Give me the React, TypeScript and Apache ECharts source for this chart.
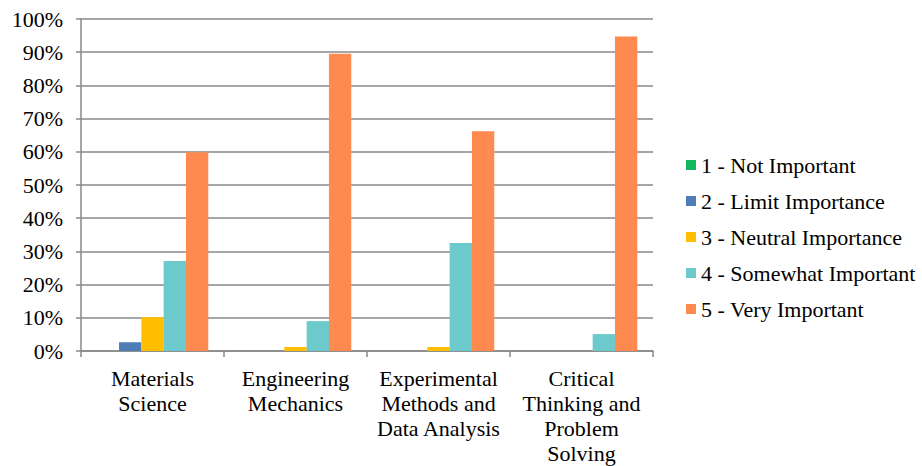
import React, { useEffect, useRef } from "react";
import * as echarts from "echarts";

const categories = [
  "Materials\nScience",
  "Engineering\nMechanics",
  "Experimental\nMethods and\nData Analysis",
  "Critical\nThinking and\nProblem\nSolving",
];
const seriesNames = [
  "1 - Not Important",
  "2 - Limit Importance",
  "3 - Neutral Importance",
  "4 - Somewhat Important",
  "5 - Very Important",
];
const notImportant = [0, 0, 0, 0];
const limitImportance = [2.6, 0, 0, 0];
const neutralImportance = [10.2, 1.2, 1.2, 0];
const somewhatImportant = [27.1, 9.0, 32.5, 5.1];
const veryImportant = [59.9, 89.5, 66.2, 94.7];
const yTicks = [0, 10, 20, 30, 40, 50, 60, 70, 80, 90, 100];

const colors = ["#10B75F", "#4F7DB8", "#FFBF00", "#6CC9CC", "#FF8A50"];
const font = "Times New Roman, Liberation Serif, serif";

export default function App() {
  const ref = useRef<HTMLDivElement>(null);
  useEffect(() => {
    if (!ref.current) return;
    const chart = echarts.init(ref.current, undefined, { renderer: "svg" });
    const data = [notImportant, limitImportance, neutralImportance, somewhatImportant, veryImportant];
    chart.setOption({
      animation: false,
      color: colors,
      textStyle: { fontFamily: font },
      grid: { left: 81, right: 269, top: 19, bottom: 115 },
      legend: {
        orient: "vertical",
        left: 681,
        top: 149,
        itemWidth: 10,
        itemHeight: 10,
        itemGap: 14,
        icon: "rect",
        textStyle: { fontFamily: font, fontSize: 22, color: "#000", lineHeight: 22 },
        data: seriesNames,
      },
      xAxis: {
        type: "category",
        data: categories,
        axisLine: { lineStyle: { color: "#898989", width: 1.5 } },
        axisTick: { show: true, length: 6, lineStyle: { color: "#898989", width: 1.5 } },
        axisLabel: {
          fontFamily: font,
          fontSize: 22,
          color: "#000",
          lineHeight: 25,
          margin: 15,
          interval: 0,
        },
      },
      yAxis: {
        type: "value",
        min: yTicks[0],
        max: yTicks[yTicks.length - 1],
        interval: 10,
        axisLine: { show: true, lineStyle: { color: "#898989", width: 1.5 } },
        axisTick: { show: true, length: 5, lineStyle: { color: "#898989", width: 1.5 } },
        splitLine: { lineStyle: { color: "#898989", width: 1.5 } },
        axisLabel: {
          fontFamily: font,
          fontSize: 22,
          color: "#000",
          margin: 18,
          formatter: (v: number) => `${v}%`,
        },
      },
      series: seriesNames.map((name, i) => ({
        name,
        type: "bar",
        data: data[i],
        barGap: "0%",
        barCategoryGap: "22%",
      })),
    });
    return () => chart.dispose();
  }, []);
  return (
    <div
      ref={ref}
      style={{ position: "absolute", left: 0, top: 0, width: 922, height: 466 }}
    />
  );
}
